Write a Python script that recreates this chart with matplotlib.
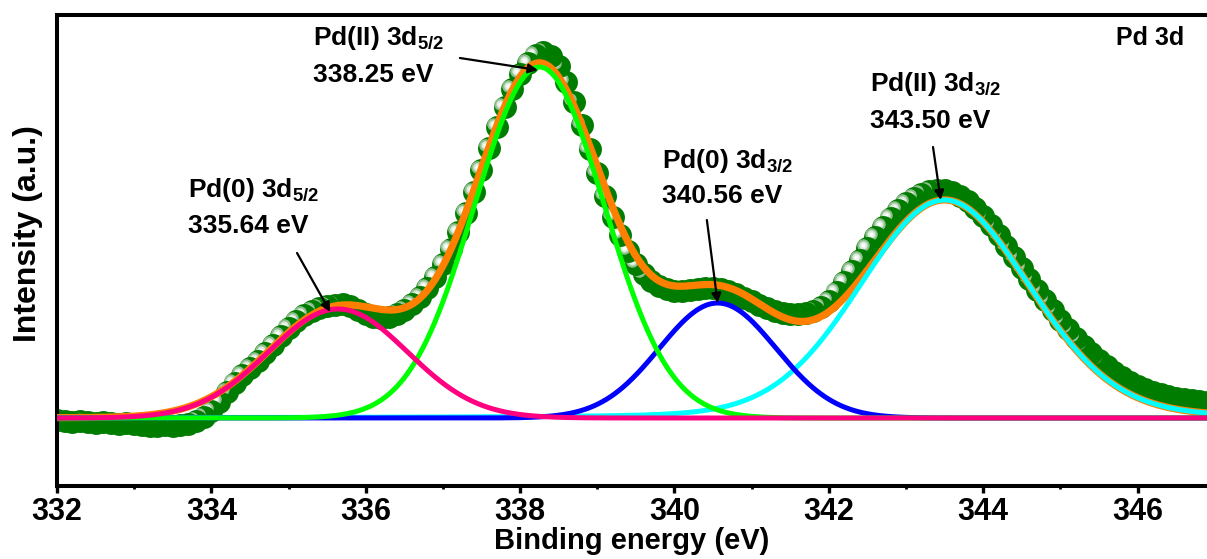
"""Pd 3d XPS spectrum with fitted components."""

import matplotlib
matplotlib.use("Agg")
import matplotlib.pyplot as plt
import matplotlib.transforms as mtransforms
import numpy as np

plt.rcParams["font.family"] = "Liberation Sans"
plt.rcParams["font.weight"] = "bold"
plt.rcParams["axes.labelweight"] = "bold"
plt.rcParams["mathtext.fontset"] = "custom"
plt.rcParams["mathtext.rm"] = "Liberation Sans:bold"
plt.rcParams["mathtext.it"] = "Liberation Sans:bold"
plt.rcParams["mathtext.bf"] = "Liberation Sans:bold"

# ─── data ────────────────────────────────────────────────────────────────────
energy = np.round(np.arange(332.0, 347.05, 0.1), 1)
counts = [
    -2, -3, -4, -3, -4, -5, -4, -5, -6, -5,
    -6, -7, -8, -8, -7, -8, -7, -6, -3, 1,
    7, 16, 26, 35, 43, 50, 57, 65, 73, 82,
    90, 97, 103, 107, 110, 112, 113, 114, 112, 108,
    104, 101, 100, 101, 104, 108, 114, 121, 130, 141,
    154, 169, 186, 205, 226, 248, 270, 291, 311, 329,
    344, 355, 363, 366, 362, 352, 336, 316, 293, 269,
    245, 222, 201, 183, 167, 154, 144, 137, 132, 129,
    127, 127, 128, 129, 130, 130, 129, 127, 124, 120,
    117, 113, 110, 107, 105, 104, 104, 105, 107, 111,
    117, 126, 136, 147, 158, 170, 181, 191, 200, 208,
    215, 220, 224, 227, 228, 228, 226, 222, 217, 210,
    202, 193, 183, 172, 161, 150, 139, 128, 118, 108,
    98, 89, 80, 72, 65, 58, 52, 46, 41, 36,
    32, 29, 26, 24, 22, 20, 19, 18, 17, 16,
    15,
]

# fitted components: Pd(0) 3d5/2, Pd(II) 3d5/2, Pd(0) 3d3/2, Pd(II) 3d3/2
peak_center = [335.64, 338.25, 340.56, 343.50]
peak_height = [109, 351, 115, 218]
peak_fwhm = [2.12, 1.98, 1.78, 2.6]
peak_lorentz = [0.0, 0.0, 0.0, 0.12]
peak_color = ["#ff0080", "#00ff00", "#0000ff", "#00ffff"]

labels_top = [r"Pd(0) 3d$_{5/2}$", r"Pd(II) 3d$_{5/2}$", r"Pd(0) 3d$_{3/2}$", r"Pd(II) 3d$_{3/2}$"]
labels_bottom = ["335.64 eV", "338.25 eV", "340.56 eV", "343.50 eV"]


def pseudo_voigt(x, c, h, w, eta):
    u = (x - c) / w
    g = np.exp(-4 * np.log(2) * u ** 2)
    lor = 1 / (1 + 4 * u ** 2)
    return h * ((1 - eta) * g + eta * lor)


fig = plt.figure(figsize=(12.07, 5.59), dpi=100)
ax = fig.add_axes([57 / 1207, 73 / 559, 1150 / 1207, 471 / 559])

# experimental points as shaded balls, high BE first so low BE overlaps
hl = ax.transData + mtransforms.ScaledTranslation(-3 / 72, 2.5 / 72, fig.dpi_scale_trans)
for x, y in zip(energy[::-1], counts[::-1]):
    ax.plot(x, y, "o", ms=16.5, color="#007d00", mec="none", zorder=2)
    ax.plot(x, y, "o", ms=9, color="#8fbf8f", mec="none", transform=hl, zorder=2)
    ax.plot(x, y, "o", ms=6, color="#d8ead8", mec="none", transform=hl, zorder=2)
    ax.plot(x, y, "o", ms=3, color="#ffffff", mec="none", transform=hl, zorder=2)

xs = np.linspace(331.5, 347.5, 1200)
comps = [pseudo_voigt(xs, c, h, w, e)
         for c, h, w, e in zip(peak_center, peak_height, peak_fwhm, peak_lorentz)]
ax.plot(xs, np.sum(comps, axis=0), color="#ff8000", lw=5.2, zorder=3)
for comp, col in list(zip(comps, peak_color))[::-1]:
    ax.plot(xs, comp, color=col, lw=3.6, zorder=4)

# annotations
text_x = [333.70, 335.32, 339.84, 342.53]
text_y = [(221, 185), (373, 336), (250, 215), (327, 290)]
arrow_from = [(335.11, 165), (337.22, 360), (340.42, 198), (343.35, 271)]
arrow_to = [(335.54, 106), (338.23, 348), (340.56, 115), (343.45, 218)]
for i in range(4):
    ax.text(text_x[i], text_y[i][0], labels_top[i], fontsize=19, ha="left", va="baseline", zorder=6)
    ax.text(text_x[i], text_y[i][1], labels_bottom[i], fontsize=19, ha="left", va="baseline", zorder=6)
    ax.annotate("", xy=arrow_to[i], xytext=arrow_from[i], zorder=6,
                arrowprops=dict(arrowstyle="-|>", color="black", lw=1.6,
                                mutation_scale=14, shrinkA=0, shrinkB=0))
ax.text(346.61, 373, "Pd 3d", fontsize=18, ha="right", va="baseline")

ax.set_xlim(332, 346.9)
ax.set_ylim(-68, 403)
ax.set_xticks(np.arange(332, 347, 2))
ax.set_xticks(np.arange(333, 347, 2), minor=True)
ax.set_yticks([])
ax.tick_params(axis="x", which="major", direction="out", length=5, width=2.4, labelsize=22, pad=3)
ax.tick_params(axis="x", which="minor", direction="out", length=2.5, width=2.0)
for s in ["left", "bottom", "top"]:
    ax.spines[s].set_linewidth(2.9)
ax.spines["right"].set_visible(False)

ax.set_xlabel("Binding energy (eV)", fontsize=21, labelpad=0)
ax.set_ylabel("Intensity (a.u.)", fontsize=23)
ax.yaxis.set_label_coords(-0.0125, 0.535)

fig.savefig("out.png", dpi=100)
